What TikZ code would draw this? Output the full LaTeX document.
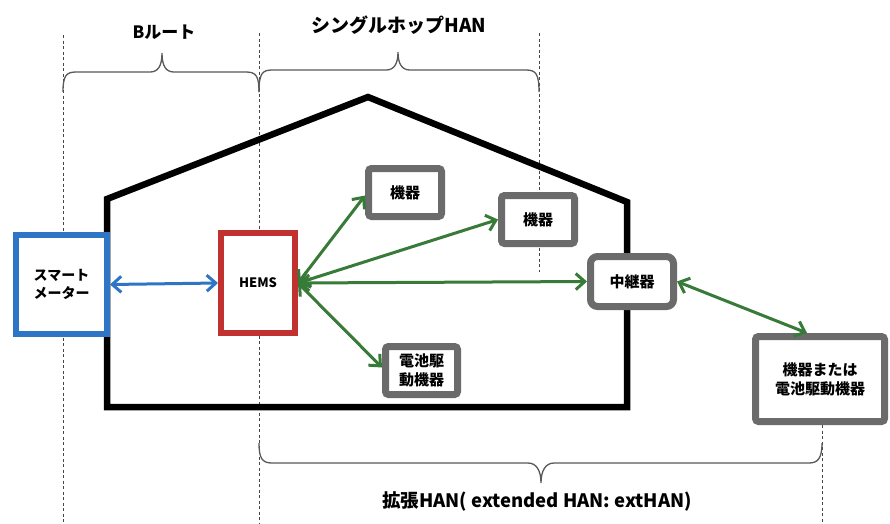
\documentclass[tikz,border=0pt]{standalone}
\usepackage{fontspec}
\setmainfont{Noto Sans CJK JP}
\usetikzlibrary{arrows.meta,calc}
\definecolor{cblue}{RGB}{47,117,197}
\definecolor{cred}{RGB}{192,49,47}
\definecolor{cgray}{RGB}{107,107,107}
\definecolor{cgreen}{RGB}{56,122,56}
\definecolor{cdash}{RGB}{70,70,70}
\tikzset{
  box/.style={draw, fill=white, line width=6pt, inner sep=0pt, align=center, font=\bfseries\fontsize{14}{18}\selectfont},
  graybox/.style={box, draw=cgray, line width=7pt, rounded corners=3pt, font=\bfseries\fontsize{15}{19}\selectfont},
  vline/.style={draw=cdash, line width=0.9pt, dash pattern=on 3pt off 2.5pt},
  bracepath/.style={draw=cdash!90, line width=1.3pt},
  garrow/.style={draw=cgreen, line width=3pt, {Straight Barb[length=9pt,width=16pt]}-{Straight Barb[length=9pt,width=16pt]}},
  barrow/.style={draw=cblue, line width=3pt, {Straight Barb[length=9pt,width=16pt]}-{Straight Barb[length=9pt,width=16pt]}},
  toplabel/.style={font=\bfseries\fontsize{17}{20}\selectfont, inner sep=0pt}
}
\begin{document}
\begin{tikzpicture}[x=1pt,y=-1pt]
\useasboundingbox (0,0) rectangle (890,523);
\fill[white] (0,0) rectangle (890,523);

% dashed guide lines
\coordinate (d1a) at (63,35);   \coordinate (d1b) at (63,523);
\coordinate (d2a) at (259,33);  \coordinate (d2b) at (259,523);
\coordinate (d3a) at (539,33);  \coordinate (d3b) at (539,272);
\coordinate (d4a) at (822,425); \coordinate (d4b) at (822,523);
\draw[vline] (d1a) -- (d1b);
\draw[vline] (d2a) -- (d2b);
\draw[vline] (d3a) -- (d3b);
\draw[vline] (d4a) -- (d4b);

% braces
\draw[bracepath] (63,92) .. controls (63,76) and (66,72) .. (76,72) -- (150,72)
  .. controls (158,72) and (162,66) .. (162,53)
  .. controls (162,66) and (166,72) .. (174,72) -- (246,72)
  .. controls (256,72) and (259,76) .. (259,92);
\draw[bracepath] (259,92) .. controls (259,74) and (262,70) .. (272,70) -- (386,70)
  .. controls (394,70) and (398,64) .. (398,52)
  .. controls (398,64) and (402,70) .. (410,70) -- (526,70)
  .. controls (536,70) and (539,74) .. (539,92);
\draw[bracepath] (259,443) .. controls (259,458) and (262,463) .. (272,463) -- (528,463)
  .. controls (536,463) and (541,470) .. (541,483)
  .. controls (541,470) and (546,463) .. (554,463) -- (809,463)
  .. controls (818,463) and (822,458) .. (822,443);

% labels
\node[toplabel] (lb) at (164,32) {Bルート};
\node[toplabel, font=\bfseries\fontsize{19}{22}\selectfont] (ls) at (399,25) {シングルホップHAN};
\node[font=\bfseries\fontsize{18.5}{22}\selectfont, inner sep=0pt] (le) at (537,501) {拡張HAN( extended HAN: extHAN)};

% house
\draw[line width=6.5pt, line join=miter] (107,199) -- (368,97) -- (627,202) -- (627,407) -- (107,407) -- cycle;

% nodes
\node[box, draw=cblue, minimum width=91pt, minimum height=99pt] (sm) at (61.5,284.5) {スマート\\メーター};
\node[box, draw=cred, minimum width=74pt, minimum height=100pt, font=\bfseries\fontsize{13}{16}\selectfont] (hems) at (258,283) {HEMS};
\node[graybox, minimum width=73pt, minimum height=48pt] (k1) at (405,192.5) {機器};
\node[graybox, minimum width=73pt, minimum height=48pt] (k2) at (538,219.5) {機器};
\node[graybox, rounded corners=7pt, minimum width=83pt, minimum height=50pt] (rep) at (632,281.5) {中継器};
\node[graybox, minimum width=72pt, minimum height=48pt] (bat) at (421.5,370.5) {電池駆\\動機器};
\node[graybox, minimum width=129pt, minimum height=85pt] (dev) at (820,379) {機器または\\電池駆動機器};

% connectors
\draw[barrow] (sm.east) -- (hems.west);
\draw[garrow] (hems.east) -- ($(k1.west)+(0,3)$);
\draw[garrow] (hems.east) -- (k2.west);
\draw[garrow] (hems.east) -- (rep.west);
\draw[garrow] (hems.east) -- ($(bat.west)+(0,-3)$);
\draw[garrow] (rep.east) -- ($(dev.north)+(-13,0)$);
\end{tikzpicture}
\end{document}
